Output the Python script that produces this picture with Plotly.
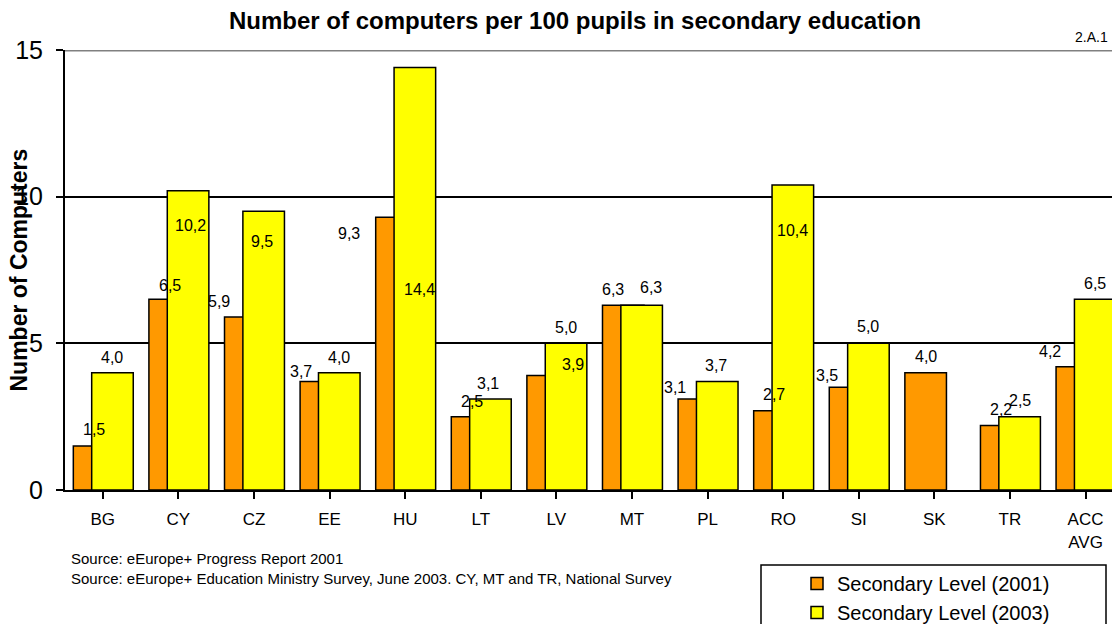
import plotly.graph_objects as go

categories = ["BG", "CY", "CZ", "EE", "HU", "LT", "LV", "MT", "PL", "RO", "SI", "SK", "TR", "ACC<br>AVG"]
level_2001 = [1.5, 6.5, 5.9, 3.7, 9.3, 2.5, 3.9, 6.3, 3.1, 2.7, 3.5, 4.0, 2.2, 4.2]
level_2003 = [4.0, 10.2, 9.5, 4.0, 14.4, 3.1, 5.0, 6.3, 3.7, 10.4, 5.0, None, 2.5, 6.5]
y_ticks = [0, 5, 10, 15]

# label placement quirks (pixels), as in the original spreadsheet chart
lab_dx_2001 = [0, 0, -26, -20, -47, 0, 25, -10, -24, 0, -23, 0, 0, -27]
lab_dy_2001 = [17, 14, 15, 10, -16, 15, 11, 16, 12, 16, 12, 16, 16, 15]
lab_dx_2003 = [0, 2, -2, 0, 5, -2, 0, 9, -1, 0, 0, 0, 0, 0]
lab_dy_2003 = [15, -35, -30, 15, -222, 16, 16, 18, 16, -46, 17, 0, 16, 16]

FONT = "Liberation Sans, Arial, sans-serif"
BAR_W = 0.55
OFF_01 = -0.39
OFF_03 = -0.147
idx = list(range(len(categories)))

L, T, W, H = 65, 50, 1112, 624
PW = W - L
PH = 440

fig = go.Figure()
fig.add_trace(go.Bar(
    x=idx, y=level_2001, name="Secondary Level (2001)",
    marker=dict(color="#FF9900", line=dict(color="black", width=1.5)),
    width=BAR_W, offset=OFF_01,
))
fig.add_trace(go.Bar(
    x=idx, y=level_2003, name="Secondary Level (2003)",
    marker=dict(color="#FFFF00", line=dict(color="black", width=1.5)),
    width=BAR_W, offset=OFF_03,
))

def fmt(v):
    return f"{v:.1f}".replace(".", ",")

annotations = []
for i, v in enumerate(level_2001):
    if v is None:
        continue
    annotations.append(dict(x=i + OFF_01 + BAR_W / 2, y=v, xref="x", yref="y",
                            text=fmt(v), showarrow=False, xshift=lab_dx_2001[i],
                            yshift=lab_dy_2001[i], font=dict(size=16, color="black", family=FONT)))
for i, v in enumerate(level_2003):
    if v is None:
        continue
    annotations.append(dict(x=i + OFF_03 + BAR_W / 2, y=v, xref="x", yref="y",
                            text=fmt(v), showarrow=False, xshift=lab_dx_2003[i],
                            yshift=lab_dy_2003[i], font=dict(size=16, color="black", family=FONT)))

annotations += [
    dict(x=(575 - L) / PW, y=1, xref="paper", yref="paper", xanchor="center", yanchor="middle", yshift=30,
         text="<b>Number of computers per 100 pupils in secondary education</b>", showarrow=False,
         font=dict(size=24, color="black", family=FONT)),
    dict(x=1, y=1, xref="paper", yref="paper", xanchor="right", yanchor="middle", yshift=13, xshift=-2,
         text="2.A.1", showarrow=False, font=dict(size=14, color="black", family=FONT)),
    dict(x=0, y=0.5, xref="paper", yref="paper", xanchor="center", yanchor="middle", xshift=18.5 - L,
         text="<b>Number of Computers</b>", textangle=-90, showarrow=False,
         font=dict(size=23, color="black", family=FONT)),
    dict(x=0, y=0, xref="paper", yref="paper", xanchor="left", yanchor="middle", xshift=69 - L, yshift=490 - 558,
         text="Source: eEurope+ Progress Report 2001", showarrow=False,
         font=dict(size=15, color="black", family=FONT)),
    dict(x=0, y=0, xref="paper", yref="paper", xanchor="left", yanchor="middle", xshift=69 - L, yshift=490 - 578,
         text="Source: eEurope+ Education Ministry Survey, June 2003. CY, MT and TR, National Survey",
         showarrow=False, font=dict(size=15, color="black", family=FONT)),
]

fig.update_layout(
    width=W, height=H,
    margin=dict(l=L, r=0, t=T, b=H - T - PH, autoexpand=False),
    paper_bgcolor="white", plot_bgcolor="white",
    barmode="overlay",
    showlegend=True,
    legend=dict(x=(797 - L) / PW, y=(490 - 564) / PH, xanchor="left", yanchor="top",
                bgcolor="rgba(0,0,0,0)", borderwidth=0, traceorder="normal",
                font=dict(size=20, color="black", family=FONT), tracegroupgap=0),
    annotations=annotations,
    shapes=[
        dict(type="line", xref="paper", yref="y", x0=0, x1=1, y0=15, y1=15,
             line=dict(color="#808080", width=3), layer="above"),
        dict(type="rect", xref="paper", yref="paper",
             x0=(761 - L) / PW, x1=(1106 - L) / PW,
             y0=(490 - 660) / PH, y1=(490 - 565) / PH,
             line=dict(color="black", width=1.5), fillcolor="rgba(0,0,0,0)"),
    ],
    font=dict(family=FONT, color="black"),
)
fig.update_xaxes(
    range=[-0.5, 13.35], tickmode="array", tickvals=idx, ticktext=categories,
    showline=True, linecolor="black", linewidth=2,
    ticks="outside", ticklen=7, tickcolor="black", tickwidth=2,
    showgrid=False, zeroline=False, ticklabelstandoff=6,
    tickfont=dict(size=17, color="black", family=FONT),
)
fig.update_yaxes(
    range=[0, 15], tickmode="array", tickvals=y_ticks,
    showline=True, linecolor="black", linewidth=2,
    ticks="outside", ticklen=7, tickcolor="black", tickwidth=2,
    showgrid=True, gridcolor="black", gridwidth=1.5, zeroline=False, ticklabelstandoff=8,
    tickfont=dict(size=25, color="black", family=FONT),
)
fig.write_html("out.html", config={"displayModeBar": False},
               post_script="document.body.style.margin='0px';document.body.style.overflow='hidden';")
